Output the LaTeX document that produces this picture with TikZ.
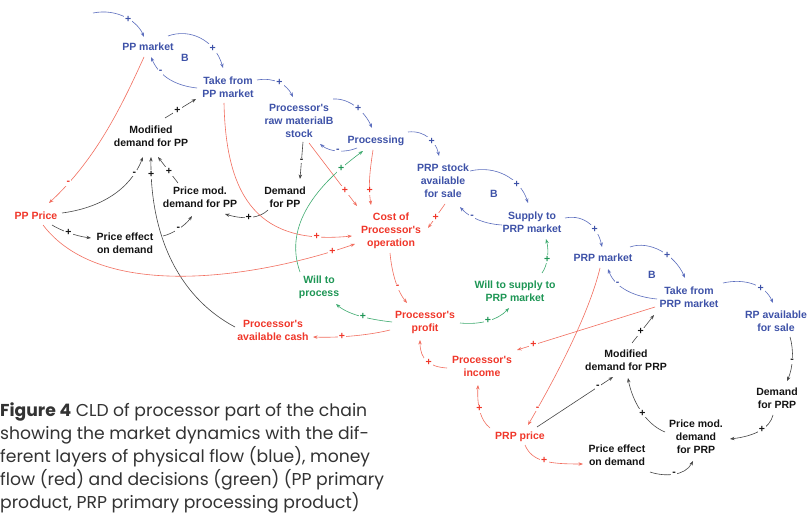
\documentclass[tikz,border=0pt]{standalone}
\usepackage{fontspec}
\usetikzlibrary{arrows.meta,calc}
\newfontfamily\lblfam{Liberation Sans}
\newfontfamily\capfam{Poppins}
\definecolor{blueT}{RGB}{62,82,168}
\definecolor{blueL}{RGB}{92,110,190}
\definecolor{redT}{RGB}{240,55,42}
\definecolor{redL}{RGB}{242,110,95}
\definecolor{greenT}{RGB}{30,150,85}
\definecolor{greenL}{RGB}{60,170,110}
\definecolor{blackT}{RGB}{20,20,20}
\definecolor{grayL}{RGB}{70,70,70}
\newcommand\lblfont{\lblfam\bfseries\fontsize{10.5}{13}\selectfont}
\newcommand\sgnfont{\lblfam\bfseries\fontsize{10.5}{10.5}\selectfont}
\newcommand\capfont{\capfam\fontsize{17.2}{23}\selectfont}
\tikzset{
  lbl/.style={font=\lblfont, align=center, inner sep=1pt},
  nb/.style={lbl, text=blueT},
  nr/.style={lbl, text=redT},
  ng/.style={lbl, text=greenT},
  nk/.style={lbl, text=blackT},
  con/.style={line width=0.6pt, -{Stealth[length=4.5pt,width=3.4pt]}},
  cb/.style={con, draw=blueL},
  cr/.style={con, draw=redL},
  cg/.style={con, draw=greenL},
  ck/.style={con, draw=grayL},
  sg/.style={font=\sgnfont, fill=white, inner sep=1.2pt},
  sb/.style={sg, text=blueT},
  sr/.style={sg, text=redT},
  sgr/.style={sg, text=greenT},
  sk/.style={sg, text=blackT},
  captxt/.style={font=\capfont, text=black!80, anchor=base west, inner sep=0pt},
}
\begin{document}
\begin{tikzpicture}[x=1pt,y=-1pt]
\fill[white] (0,0) rectangle (809,516);
\useasboundingbox (0,0) rectangle (809,516);

% ---------- blue nodes
\node[nb] (ppm) at (148,47) {PP market};
\node[nb] (tpp) at (228,87) {Take from\\PP market};
\node[nb] (rms) at (299,121) {Processor's\\raw materialB\\stock};
\node[nb] (prc) at (376,141) {Processing};
\node[nb] (prs) at (443,181) {PRP stock\\available\\for sale};
\node[nb] (sup) at (532,222) {Supply to\\PRP market};
\node[nb] (prm) at (603,258) {PRP market};
\node[nb] (tpr) at (689,297) {Take from\\PRP market};
\node[nb] (rpa) at (776,321) {RP available\\for sale};
\node[nb] (b1) at (185,58) {B};
\node[nb] (b2) at (494,194) {B};
\node[nb] (b3) at (652,275) {B};

% ---------- black nodes
\node[nk] (mdp) at (151,136) {Modified\\demand for PP};
\node[nk] (pmp) at (200,197) {Price mod.\\demand for PP};
\node[nk] (dpp) at (285,197) {Demand\\for PP};
\node[nk] (pep) at (125,243) {Price effect\\on demand};
\node[nk] (mdr) at (626,360) {Modified\\demand for PRP};
\node[nk] (dpr) at (777,398) {Demand\\for PRP};
\node[nk] (pmr) at (696,437) {Price mod.\\demand\\for PRP};
\node[nk] (per) at (617,455) {Price effect\\on demand};

% ---------- red nodes
\node[nr] (ppp) at (36,216) {PP Price};
\node[nr] (cost) at (391,231) {Cost of\\Processor's\\operation};
\node[nr] (prof) at (425,322) {Processor's\\profit};
\node[nr] (cash) at (273,330) {Processor's\\available cash};
\node[nr] (inc) at (482,366) {Processor's\\income};
\node[nr] (prp) at (520,437) {PRP price};

% ---------- green nodes
\node[ng] (wtp) at (319,287) {Will to\\process};
\node[ng] (wts) at (515,291) {Will to supply to\\PRP market};

\coordinate (cin) at (93,13);

% ---------- blue connectors
\draw[cb] (cin) .. controls (118,8) and (138,22) .. ($(ppm)+(-4,-10)$) node[sb,pos=0.55]{+};
\draw[cb] ($(ppm)+(20,-11)$) .. controls (190,28) and (215,40) .. ($(tpp)+(-5,-19)$) node[sb,pos=0.72]{+};
\draw[cb] ($(tpp)+(-31,1)$) .. controls (178,86) and (160,78) .. ($(ppm)+(3,10)$) node[sb,pos=0.72]{-};
\draw[cb] ($(tpp)+(29,-7)$) .. controls (275,77) and (287,85) .. ($(rms)+(-6,-24)$) node[sb,pos=0.5]{+};
\draw[cb] ($(rms)+(34,-22)$) .. controls (350,98) and (365,112) .. ($(prc)+(-4,-13)$) node[sb,pos=0.55]{+};
\draw[cb] ($(prc)+(-19,7)$) .. controls (345,153) and (330,152) .. ($(rms)+(21,23)$) node[sb,pos=0.5]{-};
\draw[cb] ($(prc)+(32,-9)$) .. controls (425,130) and (436,142) .. ($(prs)+(-4,-25)$) node[sb,pos=0.6]{+};
\draw[cb] ($(prs)+(27,-10)$) .. controls (495,165) and (520,178) .. ($(sup)+(-4,-19)$) node[sb,pos=0.7]{+};
\draw[cb] ($(sup)+(-30,3)$) .. controls (485,224) and (470,218) .. ($(prs)+(17,26)$) node[sb,pos=0.65]{-};
\draw[cb] ($(sup)+(33,-4)$) .. controls (585,214) and (598,228) .. ($(prm)+(-1,-11)$) node[sb,pos=0.65]{+};
\draw[cb] ($(prm)+(27,-11)$) .. controls (650,240) and (675,255) .. ($(tpr)+(-4,-19)$) node[sb,pos=0.6]{+};
\draw[cb] ($(tpr)+(-32,2)$) .. controls (635,297) and (615,288) .. ($(prm)+(5,11)$) node[sb,pos=0.7]{-};
\draw[cb] ($(tpr)+(34,-14)$) .. controls (745,278) and (765,285) .. ($(rpa)+(-3,-18)$) node[sb,pos=0.65]{+};

% ---------- black connectors
\draw[ck] ($(mdp)+(14,-18)$) -- ($(tpp)+(-32,12)$) node[sk,pos=0.4]{+};
\draw[ck] ($(ppp)+(26,-3)$) .. controls (100,208) and (130,190) .. ($(mdp)+(-8,21)$) node[sk,pos=0.82]{-};
\draw[ck] ($(cash)+(-38,-3)$) .. controls (175,295) and (150,230) .. ($(mdp)+(0,21)$) node[sk,pos=0.92]{+};
\draw[ck] ($(pmp)+(-22,-14)$) -- ($(mdp)+(7,21)$) node[sk,pos=0.45]{+};
\draw[ck] ($(dpp)+(-17,13)$) .. controls (260,218) and (245,220) .. ($(pmp)+(25,17)$) node[sk,pos=0.55]{+};
\draw[ck] ($(rms)+(4,21)$) -- ($(dpp)+(15,-18)$) node[sk,pos=0.5]{-};
\draw[ck] ($(ppp)+(16,9)$) .. controls (60,230) and (75,236) .. ($(pep)+(-34,-5)$) node[sk,pos=0.5]{+};
\draw[ck] ($(pep)+(38,-7)$) .. controls (172,234) and (185,226) .. ($(pmp)+(-8,19)$) node[sk,pos=0.5]{-};
\draw[ck] ($(mdr)+(6,-17)$) -- ($(tpr)+(-35,18)$) node[sk,pos=0.4]{+};
\draw[ck] ($(rpa)+(14,16)$) .. controls (794,350) and (793,368) .. ($(dpr)+(10,-17)$) node[sk,pos=0.55]{-};
\draw[ck] ($(dpr)+(-4,17)$) .. controls (770,428) and (755,436) .. ($(pmr)+(34,2)$) node[sk,pos=0.45]{+};
\draw[ck] ($(pmr)+(-31,-5)$) .. controls (645,424) and (632,400) .. ($(mdr)+(2,18)$) node[sk,pos=0.45]{+};
\draw[ck] ($(prp)+(17,-10)$) -- ($(mdr)+(-13,17)$) node[sk,pos=0.8]{-};
\draw[ck] ($(per)+(33,17)$) .. controls (665,477) and (685,476) .. ($(pmr)+(-3,24)$) node[sk,pos=0.5]{-};

% ---------- red connectors
\draw[cr] ($(ppm)+(-4,10)$) .. controls (120,110) and (95,160) .. ($(ppp)+(13,-13)$) node[sr,pos=0.85]{-};
\draw[cr] ($(tpp)+(-4,16)$) .. controls (226,200) and (260,245) .. ($(cost)+(-39,5)$) node[sr,pos=0.86]{+};
\draw[cr] ($(ppp)+(7,9)$) .. controls (100,300) and (250,280) .. ($(cost)+(-36,13)$) node[sr,pos=0.93]{+};
\draw[cr] ($(rms)+(10,22)$) -- ($(cost)+(-34,-25)$) node[sr,pos=0.75]{+};
\draw[cr] ($(prc)+(-3,9)$) .. controls (370,170) and (368,185) .. ($(cost)+(-20,-26)$) node[sr,pos=0.75]{+};
\draw[cr] ($(prs)+(2,23)$) -- ($(cost)+(37,-3)$) node[sr,pos=0.55]{+};
\draw[cr] ($(cost)+(-1,22)$) .. controls (392,275) and (398,292) .. ($(prof)+(-18,-19)$) node[sr,pos=0.6]{-};
\draw[cr] ($(prof)+(-35,8)$) .. controls (370,335) and (340,338) .. ($(cash)+(40,7)$) node[sr,pos=0.65]{+};
\draw[cr] ($(inc)+(-35,2)$) .. controls (430,367) and (420,360) .. ($(prof)+(-5,18)$) node[sr,pos=0.45]{+};
\draw[cr] ($(prp)+(-30,-9)$) .. controls (480,420) and (477,405) .. ($(inc)+(-4,19)$) node[sr,pos=0.55]{+};
\draw[cr] ($(prm)+(-3,10)$) .. controls (590,310) and (560,370) .. ($(prp)+(8,-12)$) node[sr,pos=0.9]{-};
\draw[cr] ($(tpr)+(-34,10)$) -- ($(inc)+(35,-16)$) node[sr,pos=0.88]{+};
\draw[cr] ($(prp)+(5,8)$) .. controls (532,462) and (550,464) .. ($(per)+(-34,9)$) node[sr,pos=0.5]{+};

% ---------- green connectors
\draw[cg] ($(prof)+(-33,0)$) .. controls (375,320) and (350,316) .. ($(wtp)+(17,17)$) node[sgr,pos=0.5]{+};
\draw[cg] ($(prof)+(35,1)$) .. controls (480,325) and (498,320) .. ($(wts)+(-6,17)$) node[sgr,pos=0.5]{+};
\draw[cg] ($(wts)+(27,-18)$) .. controls (548,265) and (549,250) .. ($(sup)+(14,17)$) node[sgr,pos=0.45]{+};
\draw[cg] ($(wtp)+(-19,-15)$) .. controls (285,230) and (310,190) .. ($(prc)+(-13,10)$) node[sgr,pos=0.85]{+};

% ---------- caption
\node[captxt] (cap1) at (0,416) {\textbf{Figure 4} CLD of processor part of the chain};
\node[captxt] (cap2) at (0,439) {showing the market dynamics with the dif-};
\node[captxt] (cap3) at (0,462) {ferent layers of physical flow (blue), money};
\node[captxt] (cap4) at (0,485) {flow (red) and decisions (green) (PP primary};
\node[captxt] (cap5) at (0,508) {product, PRP primary processing product)};
\end{tikzpicture}
\end{document}
